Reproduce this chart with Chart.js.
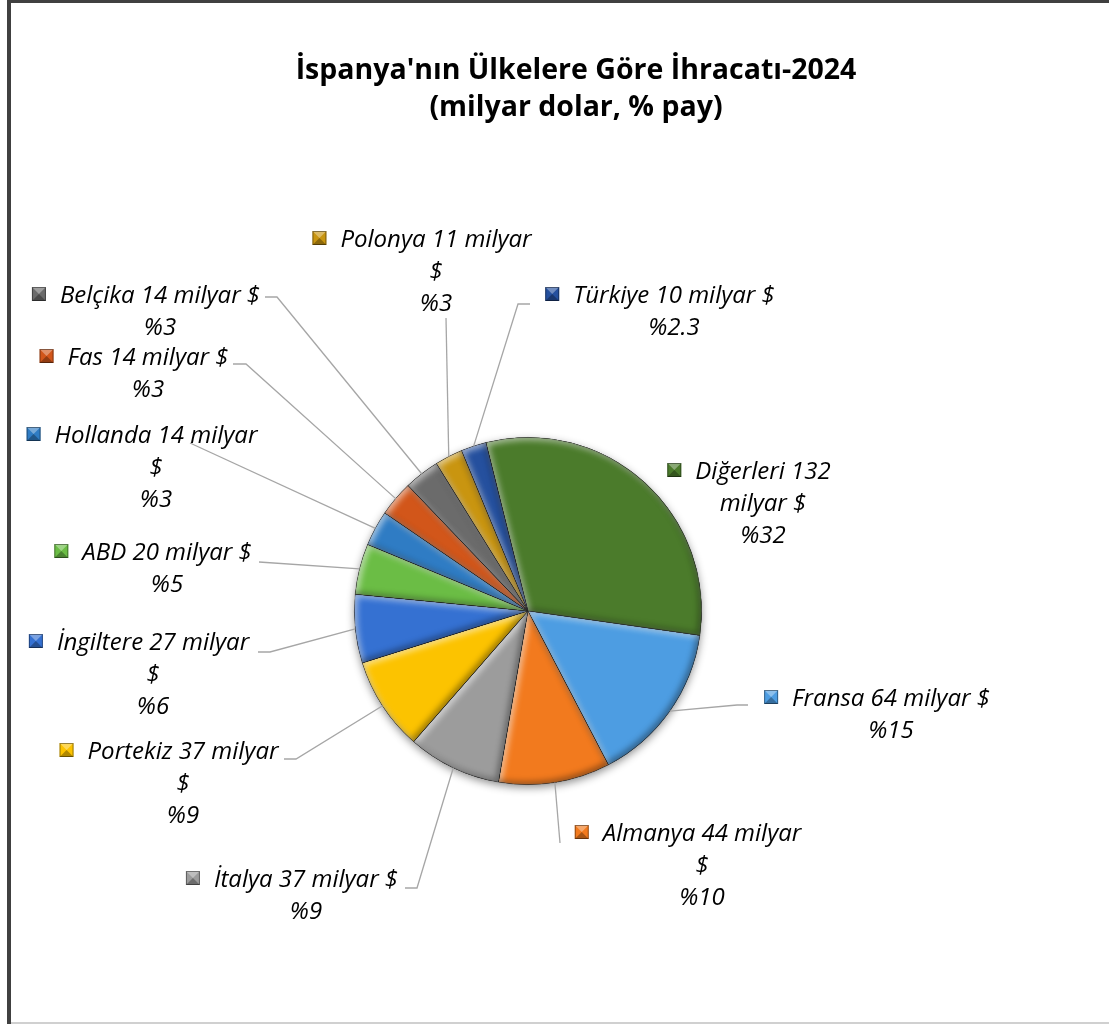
<!DOCTYPE html>
<html>
<head>
<meta charset="utf-8">
<script src="https://cdn.jsdelivr.net/npm/chart.js@4"></script>
<style>
  html, body { margin: 0; padding: 0; background: #fff; }
  canvas { display: block; }
</style>
</head>
<body>
<canvas id="pieChart" width="1109" height="1024"></canvas>
<script>
// İspanya ihracatı 2024 — ülkelere göre pay
const countries = ['Diğerleri', 'Fransa', 'Almanya', 'İtalya', 'Portekiz', 'İngiltere', 'ABD', 'Hollanda', 'Fas', 'Belçika', 'Polonya', 'Türkiye'];
const exportsBn = [132, 64, 44, 37, 37, 27, 20, 14, 14, 14, 11, 10];
const shareText = ['32', '15', '10', '9', '9', '6', '5', '3', '3', '3', '3', '2.3'];
const sliceColors = ['#4b7b2b', '#4d9de2', '#f27a1e', '#9c9c9c', '#fcc300', '#3571d2', '#6bbd45', '#2f7cc4', '#d2561a', '#6b6b6b', '#c99510', '#25509e'];

const titleLines = ["İspanya'nın Ülkelere Göre İhracatı-2024", '(milyar dolar, % pay)'];

// etiket yerleşimi (metin merkezi, kırılma tipi, bağlantı çizgisi başlangıcı)
const labelLayout = [
  { x: 763, y: 472, wrap: 'c', lead: [] },
  { x: 891, y: 699, wrap: 'a', lead: [[748, 705], [737, 705]] },
  { x: 702, y: 834, wrap: 'b', lead: [[560, 843]] },
  { x: 306, y: 880, wrap: 'a', lead: [[405, 888], [417, 888]] },
  { x: 183, y: 752, wrap: 'b', lead: [[284, 759], [296, 759]] },
  { x: 153, y: 643, wrap: 'b', lead: [[258, 652], [270, 652]] },
  { x: 167, y: 553, wrap: 'a', lead: [[259, 562]] },
  { x: 156, y: 436, wrap: 'b', lead: [[190, 443]] },
  { x: 148, y: 358, wrap: 'a', lead: [[233, 364], [246, 364]] },
  { x: 160, y: 296, wrap: 'a', lead: [[265, 297], [277, 297]] },
  { x: 436, y: 240, wrap: 'b', lead: [[446, 318]] },
  { x: 674, y: 296, wrap: 'a', lead: [[530, 304], [518, 304]] },
];

function labelLines(i) {
  const name = countries[i], v = exportsBn[i], pct = '%' + shareText[i];
  const w = labelLayout[i].wrap;
  if (w === 'a') return [`${name} ${v} milyar $`, pct];
  if (w === 'b') return [`${name} ${v} milyar`, '$', pct];
  return [`${name} ${v}`, 'milyar $', pct];
}

function slicePath(ctx, a) {
  ctx.moveTo(a.x, a.y);
  ctx.arc(a.x, a.y, a.outerRadius, a.startAngle, a.endAngle);
  ctx.closePath();
}

function drawKey(ctx, x, y, s, color) {
  ctx.save();
  ctx.fillStyle = color;
  ctx.fillRect(x, y, s, s);
  ctx.fillStyle = 'rgba(255,255,255,0.35)';
  ctx.beginPath(); ctx.moveTo(x, y); ctx.lineTo(x + s, y); ctx.lineTo(x + s / 2, y + s / 2); ctx.closePath(); ctx.fill();
  ctx.fillStyle = 'rgba(0,0,0,0.3)';
  ctx.beginPath(); ctx.moveTo(x, y + s); ctx.lineTo(x + s, y + s); ctx.lineTo(x + s / 2, y + s / 2); ctx.closePath(); ctx.fill();
  ctx.strokeStyle = 'rgba(0,0,0,0.4)';
  ctx.lineWidth = 1;
  ctx.strokeRect(x + 0.5, y + 0.5, s - 1, s - 1);
  ctx.restore();
}

// çerçeve + başlık
const framePlugin = {
  id: 'frame',
  beforeDraw(chart) {
    const ctx = chart.ctx;
    ctx.save();
    ctx.fillStyle = '#fff';
    ctx.fillRect(0, 0, chart.width, chart.height);
    ctx.fillStyle = '#404040';
    ctx.fillRect(7, 0, 4, chart.height);
    ctx.fillRect(7, 0, chart.width, 3);
    ctx.fillStyle = '#d0d0d0';
    ctx.fillRect(11, chart.height - 2, chart.width, 2);
    ctx.fillStyle = '#000';
    ctx.font = 'bold 28.5px "Open Sans"';
    ctx.textAlign = 'center';
    ctx.textBaseline = 'middle';
    ctx.fillText(titleLines[0], 576, 71);
    ctx.fillText(titleLines[1], 576, 108);
    ctx.restore();
  },
};

// pastanın altındaki gölge
const shadowPlugin = {
  id: 'pieShadow',
  beforeDatasetsDraw(chart) {
    const a = chart.getDatasetMeta(0).data[0];
    if (!a) return;
    const ctx = chart.ctx;
    ctx.save();
    ctx.shadowColor = 'rgba(0,0,0,0.45)';
    ctx.shadowBlur = 9;
    ctx.shadowOffsetY = 3;
    ctx.fillStyle = '#fff';
    ctx.beginPath();
    ctx.arc(a.x, a.y, a.outerRadius, 0, Math.PI * 2);
    ctx.fill();
    ctx.restore();
  },
};

// dilimlerde kabartma efekti (iç gölge)
const bevelPlugin = {
  id: 'bevel',
  afterDatasetsDraw(chart) {
    const ctx = chart.ctx;
    chart.getDatasetMeta(0).data.forEach(arc => {
      const a = arc.getProps(['x', 'y', 'startAngle', 'endAngle', 'outerRadius'], true);
      ctx.save();
      ctx.beginPath();
      slicePath(ctx, a);
      ctx.clip();
      const passes = [['rgba(255,255,255,0.6)', 2.5], ['rgba(0,0,0,0.4)', -2.5]];
      passes.forEach(([col, off]) => {
        ctx.beginPath();
        ctx.rect(a.x - 3000, a.y - 3000, 6000, 6000);
        slicePath(ctx, a);
        ctx.fillStyle = '#000';
        ctx.shadowColor = col;
        ctx.shadowBlur = 6;
        ctx.shadowOffsetX = off;
        ctx.shadowOffsetY = off;
        ctx.fill('evenodd');
      });
      ctx.restore();
    });
  },
};

// veri etiketleri + bağlantı çizgileri
const labelPlugin = {
  id: 'sliceLabels',
  afterDraw(chart) {
    const ctx = chart.ctx;
    const arcs = chart.getDatasetMeta(0).data;
    ctx.save();
    ctx.font = 'italic 24px "Open Sans"';
    ctx.textAlign = 'center';
    ctx.textBaseline = 'middle';
    arcs.forEach((arc, i) => {
      const L = labelLayout[i];
      const a = arc.getProps(['x', 'y', 'startAngle', 'endAngle', 'outerRadius'], true);
      if (L.lead.length) {
        const mid = (a.startAngle + a.endAngle) / 2;
        ctx.strokeStyle = '#a6a6a6';
        ctx.lineWidth = 1.3;
        ctx.beginPath();
        ctx.moveTo(L.lead[0][0], L.lead[0][1]);
        L.lead.slice(1).forEach(p => ctx.lineTo(p[0], p[1]));
        ctx.lineTo(a.x + Math.cos(mid) * a.outerRadius, a.y + Math.sin(mid) * a.outerRadius);
        ctx.stroke();
      }
      const lines = labelLines(i);
      ctx.fillStyle = '#000';
      lines.forEach((t, k) => ctx.fillText(t, L.x, L.y + k * 32));
      const w = ctx.measureText(lines[0]).width;
      drawKey(ctx, L.x - w / 2 - 28, L.y - 9, 14, sliceColors[i]);
    });
    ctx.restore();
  },
};

new Chart(document.getElementById('pieChart'), {
  type: 'pie',
  data: {
    labels: countries,
    datasets: [{
      data: exportsBn,
      backgroundColor: sliceColors,
      borderColor: 'rgba(0,0,0,0.35)',
      borderWidth: 0.8,
    }],
  },
  options: {
    responsive: false,
    animation: false,
    events: [],
    rotation: -14,
    layout: { padding: { left: 354, right: 407, top: 437, bottom: 239 } },
    plugins: {
      legend: { display: false },
      tooltip: { enabled: false },
      title: { display: false },
    },
  },
  plugins: [framePlugin, shadowPlugin, bevelPlugin, labelPlugin],
});
</script>
</body>
</html>
